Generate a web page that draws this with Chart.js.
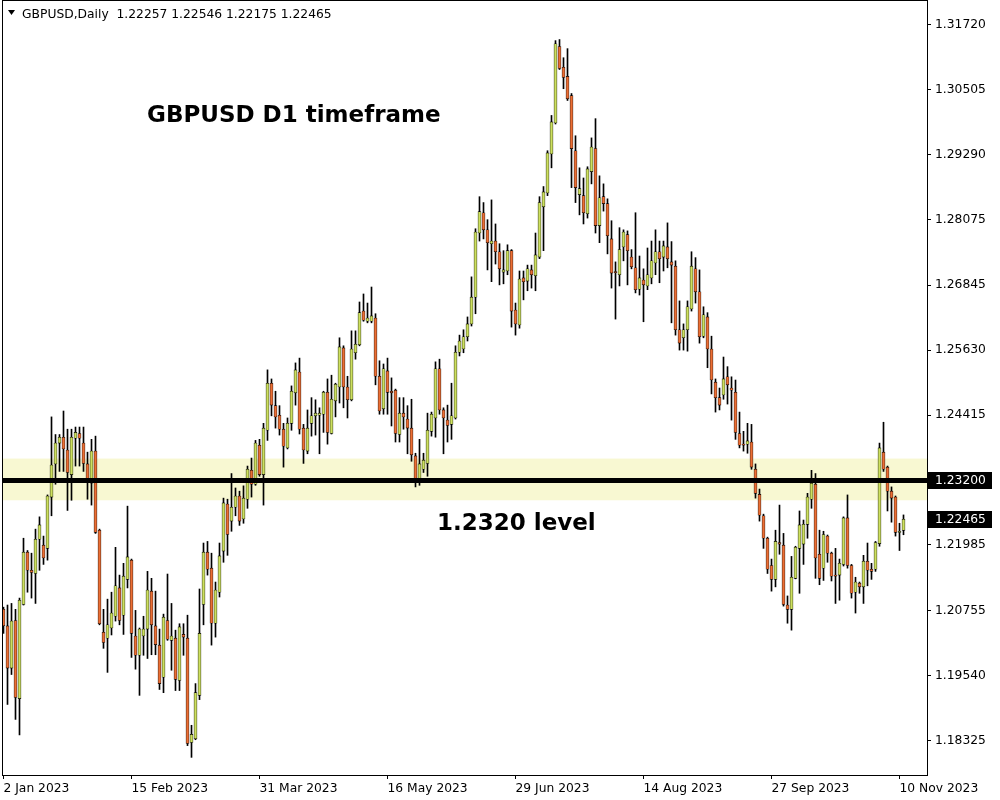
<!DOCTYPE html>
<html>
<head>
<meta charset="utf-8">
<script src="https://cdn.jsdelivr.net/npm/chart.js@4.4.0/dist/chart.umd.min.js"></script>
<style>
    html, body { margin: 0; padding: 0; background: #ffffff; }
</style>
</head>
<body>
<canvas id="grafico" width="1000" height="800"></canvas>
<script>
// Velas diárias GBPUSD (2 Jan 2023 -> 13 Nov 2023)
const openP = [
    1.2078, 1.2047, 1.1968, 1.2057, 1.1911, 1.2087, 1.2185, 1.2151, 1.2145, 1.2209,
    1.2198, 1.2192, 1.2288, 1.2350, 1.2389, 1.2400, 1.2376, 1.2330, 1.2398, 1.2407,
    1.2389, 1.2350, 1.2314, 1.2374, 1.2226, 1.2035, 1.2024, 1.2043, 1.2065, 1.2118,
    1.2067, 1.2134, 1.2170, 1.2028, 1.1992, 1.2028, 1.2041, 1.2112, 1.2047, 1.2011,
    1.1951, 1.2057, 1.2020, 1.2024, 1.1945, 1.2031, 1.2024, 1.1829, 1.1836, 1.1917,
    1.2087, 1.2185, 1.2155, 1.2052, 1.2110, 1.2187, 1.2275, 1.2243, 1.2269, 1.2290,
    1.2247, 1.2284, 1.2338, 1.2312, 1.2385, 1.2330, 1.2413, 1.2501, 1.2459, 1.2441,
    1.2415, 1.2380, 1.2426, 1.2483, 1.2522, 1.2417, 1.2374, 1.2426, 1.2440, 1.2441,
    1.2443, 1.2484, 1.2407, 1.2468, 1.2494, 1.2567, 1.2494, 1.2470, 1.2558, 1.2573,
    1.2636, 1.2617, 1.2617, 1.2623, 1.2514, 1.2453, 1.2524, 1.2486, 1.2488, 1.2405,
    1.2445, 1.2434, 1.2417, 1.2365, 1.2323, 1.2340, 1.2351, 1.2411, 1.2436, 1.2528,
    1.2451, 1.2432, 1.2424, 1.2436, 1.2559, 1.2565, 1.2588, 1.2612, 1.2662, 1.2782,
    1.2820, 1.2788, 1.2762, 1.2767, 1.2747, 1.2709, 1.2711, 1.2749, 1.2638, 1.2610,
    1.2698, 1.2692, 1.2713, 1.2702, 1.2737, 1.2831, 1.2857, 1.2930, 1.2988, 1.3131,
    1.3092, 1.3075, 1.3039, 1.2936, 1.2854, 1.2852, 1.2818, 1.2897, 1.2940, 1.2796,
    1.2850, 1.2837, 1.2771, 1.2709, 1.2704, 1.2756, 1.2779, 1.2737, 1.2717, 1.2677,
    1.2694, 1.2683, 1.2698, 1.2726, 1.2747, 1.2737, 1.2756, 1.2728, 1.2720, 1.2601,
    1.2586, 1.2601, 1.2640, 1.2715, 1.2672, 1.2589, 1.2625, 1.2565, 1.2503, 1.2474,
    1.2479, 1.2513, 1.2492, 1.2484, 1.2407, 1.2387, 1.2387, 1.2391, 1.2340, 1.2293,
    1.2253, 1.2211, 1.2160, 1.2134, 1.2203, 1.2198, 1.2086, 1.2078, 1.2136, 1.2192,
    1.2200, 1.2237, 1.2284, 1.2312, 1.2181, 1.2155, 1.2215, 1.2183, 1.2142, 1.2142,
    1.2162, 1.2249, 1.2160, 1.2110, 1.2127, 1.2120, 1.2168, 1.2153, 1.2153, 1.2201,
    1.2372, 1.2344, 1.2299, 1.2288, 1.2222, 1.22257
];
const highP = [
    1.2082, 1.2086, 1.2089, 1.2078, 1.2099, 1.2211, 1.2188, 1.2183, 1.2228, 1.2251,
    1.2215, 1.2292, 1.2438, 1.2405, 1.2405, 1.2449, 1.2415, 1.2415, 1.2419, 1.2419,
    1.2419, 1.2372, 1.2396, 1.2402, 1.2228, 1.2078, 1.2097, 1.2110, 1.2194, 1.2142,
    1.2164, 1.2271, 1.2172, 1.2076, 1.2043, 1.2065, 1.2149, 1.2136, 1.2112, 1.2041,
    1.2069, 1.2144, 1.2089, 1.2039, 1.2051, 1.2051, 1.2067, 1.1861, 1.1939, 1.2116,
    1.2202, 1.2205, 1.2183, 1.2129, 1.2202, 1.2286, 1.2284, 1.2332, 1.2305, 1.2299,
    1.2309, 1.2346, 1.2361, 1.2394, 1.2396, 1.2426, 1.2526, 1.2509, 1.2486, 1.2459,
    1.2426, 1.2436, 1.2496, 1.2539, 1.2548, 1.2424, 1.2451, 1.2474, 1.2470, 1.2455,
    1.2486, 1.2509, 1.2516, 1.2501, 1.2586, 1.2571, 1.2514, 1.2599, 1.2599, 1.2653,
    1.2668, 1.2651, 1.2681, 1.2631, 1.2543, 1.2537, 1.2548, 1.2511, 1.2490, 1.2474,
    1.2474, 1.2459, 1.2471, 1.2370, 1.2396, 1.2370, 1.2445, 1.2447, 1.2541, 1.2546,
    1.2455, 1.2460, 1.2501, 1.2571, 1.2591, 1.2601, 1.2625, 1.2700, 1.2790, 1.2850,
    1.2839, 1.2807, 1.2844, 1.2799, 1.2762, 1.2749, 1.2760, 1.2751, 1.2651, 1.2711,
    1.2711, 1.2722, 1.2722, 1.2782, 1.2850, 1.2869, 1.2936, 1.3002, 1.3142, 1.3144,
    1.3110, 1.3127, 1.3043, 1.2964, 1.2904, 1.2885, 1.2906, 1.2960, 1.2996, 1.2889,
    1.2874, 1.2846, 1.2805, 1.2728, 1.2792, 1.2788, 1.2786, 1.2751, 1.2820, 1.2739,
    1.2715, 1.2754, 1.2767, 1.2788, 1.2767, 1.2767, 1.2801, 1.2766, 1.2730, 1.2655,
    1.2612, 1.2655, 1.2747, 1.2736, 1.2713, 1.2644, 1.2633, 1.2589, 1.2509, 1.2492,
    1.2550, 1.2532, 1.2513, 1.2507, 1.2447, 1.2411, 1.2426, 1.2424, 1.2350, 1.2303,
    1.2256, 1.2213, 1.2172, 1.2226, 1.2273, 1.2220, 1.2103, 1.2177, 1.2196, 1.2262,
    1.2245, 1.2295, 1.2338, 1.2332, 1.2226, 1.2224, 1.2217, 1.2185, 1.2192, 1.2172,
    1.2251, 1.2292, 1.2162, 1.2138, 1.2129, 1.2179, 1.2202, 1.2164, 1.2205, 1.2389,
    1.2428, 1.2346, 1.2307, 1.2290, 1.2239, 1.22546
];
const lowP = [
    1.2033, 1.1900, 1.1956, 1.1872, 1.1843, 1.2086, 1.2110, 1.2099, 1.2089, 1.2151,
    1.2162, 1.2170, 1.2253, 1.2312, 1.2336, 1.2336, 1.2263, 1.2282, 1.2346, 1.2346,
    1.2336, 1.2284, 1.2273, 1.2220, 1.2049, 1.2005, 1.1960, 1.2030, 1.2056, 1.2049,
    1.2031, 1.2118, 1.1988, 1.1966, 1.1917, 1.1992, 1.1986, 1.1993, 1.1993, 1.1928,
    1.1922, 1.2020, 1.1964, 1.1926, 1.1926, 1.1992, 1.1823, 1.1801, 1.1834, 1.1909,
    1.2049, 1.2142, 1.2011, 1.2026, 1.2101, 1.2166, 1.2179, 1.2224, 1.2253, 1.2235,
    1.2239, 1.2267, 1.2288, 1.2310, 1.2327, 1.2273, 1.2394, 1.2440, 1.2417, 1.2404,
    1.2344, 1.2378, 1.2413, 1.2460, 1.2406, 1.2351, 1.2369, 1.2402, 1.2404, 1.2369,
    1.2409, 1.2387, 1.2406, 1.2438, 1.2464, 1.2455, 1.2436, 1.2468, 1.2546, 1.2571,
    1.2617, 1.2614, 1.2614, 1.2498, 1.2443, 1.2443, 1.2443, 1.2421, 1.2391, 1.2391,
    1.2415, 1.2369, 1.2355, 1.2307, 1.2310, 1.2334, 1.2327, 1.2402, 1.2400, 1.2443,
    1.2369, 1.2391, 1.2396, 1.2434, 1.2552, 1.2558, 1.2580, 1.2608, 1.2631, 1.2767,
    1.2771, 1.2713, 1.2691, 1.2724, 1.2685, 1.2687, 1.2704, 1.2606, 1.2591, 1.2604,
    1.2657, 1.2674, 1.2679, 1.2674, 1.2734, 1.2749, 1.2852, 1.2904, 1.2986, 1.3088,
    1.3052, 1.3030, 1.2867, 1.2839, 1.2816, 1.2799, 1.2810, 1.2874, 1.2782, 1.2764,
    1.2823, 1.2743, 1.2679, 1.2621, 1.2683, 1.2730, 1.2685, 1.2715, 1.2670, 1.2666,
    1.2616, 1.2676, 1.2687, 1.2704, 1.2689, 1.2711, 1.2717, 1.2614, 1.2591, 1.2563,
    1.2563, 1.2561, 1.2636, 1.2651, 1.2576, 1.2586, 1.2530, 1.2481, 1.2447, 1.2451,
    1.2471, 1.2462, 1.2432, 1.2396, 1.2380, 1.2374, 1.2370, 1.2340, 1.2286, 1.2243,
    1.2192, 1.2145, 1.2112, 1.2120, 1.2181, 1.2084, 1.2052, 1.2039, 1.2135, 1.2108,
    1.2162, 1.2211, 1.2267, 1.2136, 1.2124, 1.2132, 1.2166, 1.2131, 1.2089, 1.2095,
    1.2159, 1.2155, 1.2099, 1.2071, 1.2108, 1.2089, 1.2122, 1.2134, 1.2149, 1.2196,
    1.2336, 1.2262, 1.2241, 1.2215, 1.2188, 1.22175
];
const closeP = [
    1.2047, 1.1968, 1.2056, 1.1913, 1.2095, 1.2185, 1.2151, 1.2147, 1.2209, 1.2236,
    1.2174, 1.2290, 1.2348, 1.2389, 1.2400, 1.2378, 1.2334, 1.2400, 1.2409, 1.2398,
    1.2351, 1.2316, 1.2374, 1.2222, 1.2051, 1.2016, 1.2049, 1.2071, 1.2122, 1.2057,
    1.2140, 1.2176, 1.2033, 1.1992, 1.2041, 1.2041, 1.2114, 1.2049, 1.2012, 1.1939,
    1.2063, 1.2022, 1.2028, 1.1947, 1.2045, 1.2026, 1.1827, 1.1844, 1.1922, 1.2033,
    1.2185, 1.2153, 1.2052, 1.2114, 1.2178, 1.2277, 1.2218, 1.2269, 1.2290, 1.2243,
    1.2286, 1.2340, 1.2312, 1.2389, 1.2330, 1.2417, 1.2501, 1.2460, 1.2438, 1.2415,
    1.2383, 1.2426, 1.2486, 1.2526, 1.2415, 1.2376, 1.2417, 1.2440, 1.2445, 1.2445,
    1.2484, 1.2409, 1.2471, 1.2499, 1.2569, 1.2494, 1.2470, 1.2565, 1.2574, 1.2633,
    1.2619, 1.2623, 1.2627, 1.2514, 1.2449, 1.2528, 1.2484, 1.2483, 1.2407, 1.2445,
    1.2438, 1.2417, 1.2367, 1.2323, 1.2350, 1.2357, 1.2413, 1.2443, 1.2528, 1.2451,
    1.2436, 1.2422, 1.2440, 1.2559, 1.2580, 1.2588, 1.2612, 1.2662, 1.2784, 1.2822,
    1.2788, 1.2764, 1.2767, 1.2747, 1.2715, 1.2713, 1.2749, 1.2636, 1.2612, 1.2696,
    1.2691, 1.2715, 1.2704, 1.2741, 1.2839, 1.2859, 1.2932, 1.2990, 1.3136, 1.3090,
    1.3073, 1.3033, 1.2940, 1.2867, 1.2865, 1.2820, 1.2902, 1.2943, 1.2796, 1.2848,
    1.2837, 1.2777, 1.2707, 1.2708, 1.2751, 1.2784, 1.2749, 1.2719, 1.2676, 1.2698,
    1.2685, 1.2704, 1.2730, 1.2747, 1.2734, 1.2758, 1.2734, 1.2722, 1.2601, 1.2576,
    1.2601, 1.2644, 1.2720, 1.2672, 1.2588, 1.2629, 1.2565, 1.2507, 1.2474, 1.2460,
    1.2509, 1.2498, 1.2488, 1.2409, 1.2385, 1.2385, 1.2393, 1.2344, 1.2295, 1.2254,
    1.2211, 1.2153, 1.2134, 1.2205, 1.2200, 1.2087, 1.2078, 1.2138, 1.2194, 1.2236,
    1.2237, 1.2288, 1.2314, 1.2174, 1.2136, 1.2218, 1.2183, 1.2140, 1.2140, 1.2164,
    1.2249, 1.2160, 1.2108, 1.2129, 1.2120, 1.2168, 1.2151, 1.2149, 1.2203, 1.2380,
    1.2340, 1.2299, 1.2286, 1.2222, 1.2224, 1.22465
];

// Eixos
const yTicks = [1.18325, 1.19540, 1.20755, 1.21985, 1.23200, 1.24415, 1.25630, 1.26845, 1.28075, 1.29290, 1.30505, 1.31720];
const tickBars = [0, 32, 64, 96, 128, 160, 192, 224];
const tickDates = ["2 Jan 2023", "15 Feb 2023", "31 Mar 2023", "16 May 2023", "29 Jun 2023", "14 Aug 2023", "27 Sep 2023", "10 Nov 2023"];

// Anotações
const nivel = 1.2320;
const zona = [1.2282, 1.2360];
const ultimoPreco = 1.22465;
const cabecalho = "GBPUSD,Daily  1.22257 1.22546 1.22175 1.22465";
const titulo = "GBPUSD D1 timeframe";
const textoNivel = "1.2320 level";

const COR_ALTA = "#cde05e";
const COR_BAIXA = "#ec6e34";
const FONTE = "DejaVu Sans";
const TAM_EIXO = 12.3;

const indices = openP.map((_, i) => i);
const pavios = indices.map(i => ({ x: i, y: [lowP[i], highP[i]] }));
const corpos = indices.map(i => ({ x: i, y: [openP[i], closeP[i]] }));
const cores = indices.map(i => closeP[i] >= openP[i] ? COR_ALTA : COR_BAIXA);

// Desenhos do MT4: faixa amarela, linha do nível, textos, moldura e etiquetas de preço
const desenhos = {
    id: "desenhos",
    beforeDatasetsDraw(chart) {
        const { ctx, chartArea: a, scales: { y } } = chart;
        const topo = y.getPixelForValue(zona[1]);
        const base = y.getPixelForValue(zona[0]);
        ctx.save();
        ctx.fillStyle = "#f8f8d2";
        ctx.fillRect(a.left, topo, a.right - a.left, base - topo);
        ctx.restore();
    },
    afterDatasetsDraw(chart) {
        const { ctx, chartArea: a, scales: { y } } = chart;
        const py = y.getPixelForValue(nivel);
        ctx.save();
        ctx.fillStyle = "#000";
        ctx.fillRect(a.left, Math.round(py) - 2, a.right - a.left, 5);

        ctx.font = "bold 23px '" + FONTE + "'";
        ctx.textBaseline = "alphabetic";
        ctx.textAlign = "left";
        ctx.fillText(titulo, 147, 122);
        ctx.fillText(textoNivel, 437, py + 50);
        ctx.restore();
    },
    afterDraw(chart) {
        const { ctx, chartArea: a, scales: { y } } = chart;
        ctx.save();
        // moldura
        ctx.strokeStyle = "#000";
        ctx.lineWidth = 1;
        ctx.strokeRect(a.left + 0.5, a.top + 0.5, a.right - a.left, a.bottom - a.top);

        // etiquetas de preço no eixo
        ctx.font = TAM_EIXO + "px '" + FONTE + "'";
        ctx.textBaseline = "middle";
        ctx.textAlign = "left";
        [nivel, ultimoPreco].forEach(v => {
            const py = Math.round(y.getPixelForValue(v));
            ctx.fillStyle = "#000";
            ctx.fillRect(a.right + 1, py - 8, 64, 17);
            ctx.fillStyle = "#fff";
            ctx.fillText(v.toFixed(5), a.right + 8, py + 0.5);
        });

        // cabeçalho
        ctx.fillStyle = "#000";
        ctx.beginPath();
        ctx.moveTo(8, 10);
        ctx.lineTo(15, 10);
        ctx.lineTo(11.5, 15);
        ctx.closePath();
        ctx.fill();
        ctx.textBaseline = "alphabetic";
        ctx.fillText(cabecalho, 22, 18);
        ctx.restore();
    }
};

const ctx = document.getElementById("grafico").getContext("2d");

new Chart(ctx, {
    type: "bar",
    data: {
        datasets: [{
            label: "corpo",
            data: corpos,
            backgroundColor: cores,
            borderColor: "#000",
            borderWidth: 0.6,
            borderSkipped: false,
            barThickness: 3,
            minBarLength: 1,
            grouped: false,
            order: 1
        }, {
            label: "pavio",
            data: pavios,
            backgroundColor: "#000",
            borderWidth: 0,
            barThickness: 1,
            grouped: false,
            order: 2
        }]
    },
    options: {
        responsive: false,
        animation: false,
        layout: { padding: { left: 2, top: 0, right: 0, bottom: 0 } },
        plugins: {
            legend: { display: false },
            tooltip: { enabled: false }
        },
        scales: {
            x: {
                type: "linear",
                min: -0.375,
                max: 230.875,
                offset: false,
                bounds: "data",
                grid: { drawOnChartArea: false, offset: false, tickLength: 4, color: "#000" },
                border: { display: false },
                afterBuildTicks: s => { s.ticks = tickBars.map(v => ({ value: v })); },
                afterFit: s => { s.height = 25; s.paddingLeft = 0; s.paddingRight = 0; },
                ticks: {
                    autoSkip: false,
                    maxRotation: 0,
                    align: "start",
                    padding: 2,
                    color: "#000",
                    font: { family: FONTE, size: TAM_EIXO },
                    callback: v => tickDates[tickBars.indexOf(v)]
                }
            },
            y: {
                position: "right",
                min: 1.1768,
                max: 1.3218,
                bounds: "data",
                grid: { drawOnChartArea: false, tickLength: 4, color: "#000" },
                border: { display: false },
                afterBuildTicks: s => { s.ticks = yTicks.map(v => ({ value: v })); },
                afterFit: s => { s.width = 73; s.paddingTop = 0; s.paddingBottom = 0; },
                ticks: {
                    autoSkip: false,
                    padding: 4,
                    color: "#000",
                    font: { family: FONTE, size: TAM_EIXO },
                    callback: v => v.toFixed(5)
                }
            }
        }
    },
    plugins: [desenhos]
});
</script>
</body>
</html>
